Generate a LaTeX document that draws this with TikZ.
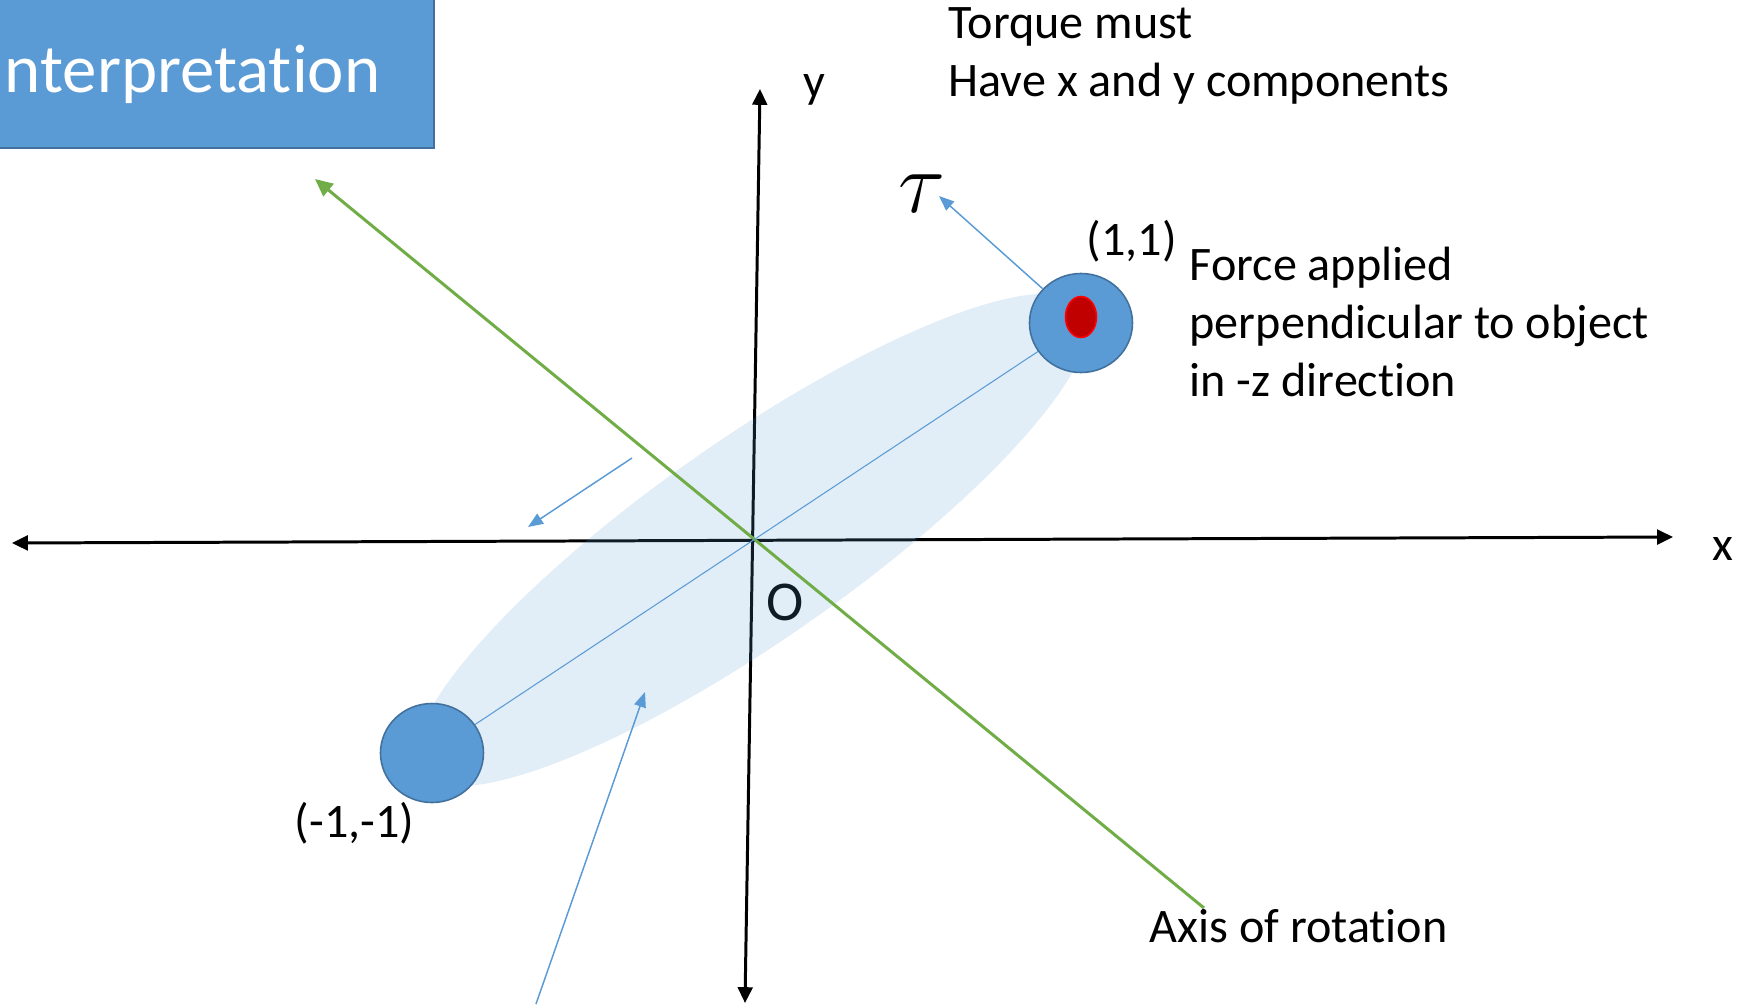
\documentclass[tikz,border=0pt]{standalone}
\usepackage{fontspec}
\setmainfont{Carlito}[Ligatures=NoCommon]
\usepackage{tikz}
\usetikzlibrary{arrows.meta,positioning,shapes.geometric}
\definecolor{rotblue}{RGB}{91,155,213}
\definecolor{rotedge}{RGB}{65,113,156}
\definecolor{rotgreen}{RGB}{112,173,71}
\definecolor{rotred}{RGB}{192,0,0}

\tikzset{
  lbl/.style={anchor=base west,inner sep=0pt},
  ball/.style={ellipse,draw=rotedge,fill=rotblue,line width=0.45pt,minimum width=1.03cm,minimum height=0.99cm,inner sep=0pt},
  thin arrow/.style={rotblue,line width=0.42pt,-{Triangle[length=4.3pt,width=3.4pt]}},
  axis line/.style={line width=0.85pt,{Triangle[length=4.5pt,width=4.2pt]}-{Triangle[length=4.5pt,width=4.2pt]}}
}

\begin{document}
\begin{tikzpicture}[x=1cm,y=1cm,font=\fontsize{13.7}{16.4}\selectfont]
  \useasboundingbox (-7.52,-4.64) rectangle (9.88,5.40);

  % title
  \fill[rotblue] (-7.52,3.92) rectangle (-3.18,5.40);
  \draw[rotedge,line width=0.5pt] (-7.52,3.92) -- (-3.18,3.92) -- (-3.18,5.40);
  \node[lbl,anchor=base east,white,font=\fontsize{19.6}{23.5}\selectfont] (title) at (-3.71,4.48) {nterpretation};

  % axes
  \coordinate (xl) at (-7.40,-0.03);
  \coordinate (xr) at (9.21,0.03);
  \coordinate (yt) at (0.08,4.51);
  \coordinate (yb) at (-0.07,-4.63);
  \draw[axis line] (xl) -- (xr);
  \draw[axis line] (yb) -- (yt);
  \node[lbl] (xlbl) at (9.60,-0.20) {x};
  \node[lbl] (ylbl) at (0.51,4.43) {y};
  \node[lbl,font=\fontsize{16}{18}\selectfont] (olbl) at (0.14,-0.80) {O};

  % rod
  \fill[rotblue,opacity=0.18,rotate=35] (0,0) ellipse [x radius=4.05,y radius=1.0];

  % axis of rotation
  \coordinate (rtip) at (-4.37,3.61);
  \coordinate (rend) at (4.52,-3.68);
  \draw[rotgreen,line width=0.85pt,-{Triangle[length=5pt,width=4.5pt]}] (rend) -- (rtip);
  \node[lbl] (axlbl) at (3.97,-4.02) {Axis of rotation};

  % masses
  \node[ball] (m1) at (3.29,2.17) {};
  \node[ball] (m2) at (-3.20,-2.13) {};
  \draw[rotblue,line width=0.3pt] (m2) -- (m1);
  \node[ellipse,draw=red,fill=rotred,line width=0.45pt,minimum width=0.31cm,minimum height=0.41cm,inner sep=0pt] (dot) at (3.29,2.23) {};
  \node[lbl] (pt1) at (3.34,2.85) {(1,1)};
  \node[lbl] (pt2) at (-4.58,-2.97) {(-1,-1)};

  % torque
  \coordinate (tautip) at (1.87,3.44);
  \draw[thin arrow] (m1) -- (tautip);
  \node[font=\fontsize{34}{36}\selectfont] (tau) at (1.70,3.46) {$\tau$};
  \node[lbl,align=left] (torq) at (1.96,4.44) {Torque must\\Have x and y components};
  \node[lbl,align=left] (force) at (4.37,1.44) {Force applied\\perpendicular to object\\in -z direction};

  % force arrows
  \coordinate (fa) at (-1.20,0.82);
  \coordinate (fb) at (-2.24,0.13);
  \draw[thin arrow] (fa) -- (fb);
  \coordinate (ga) at (-2.16,-4.64);
  \coordinate (gb) at (-1.07,-1.52);
  \draw[thin arrow] (ga) -- (gb);
\end{tikzpicture}
\end{document}
